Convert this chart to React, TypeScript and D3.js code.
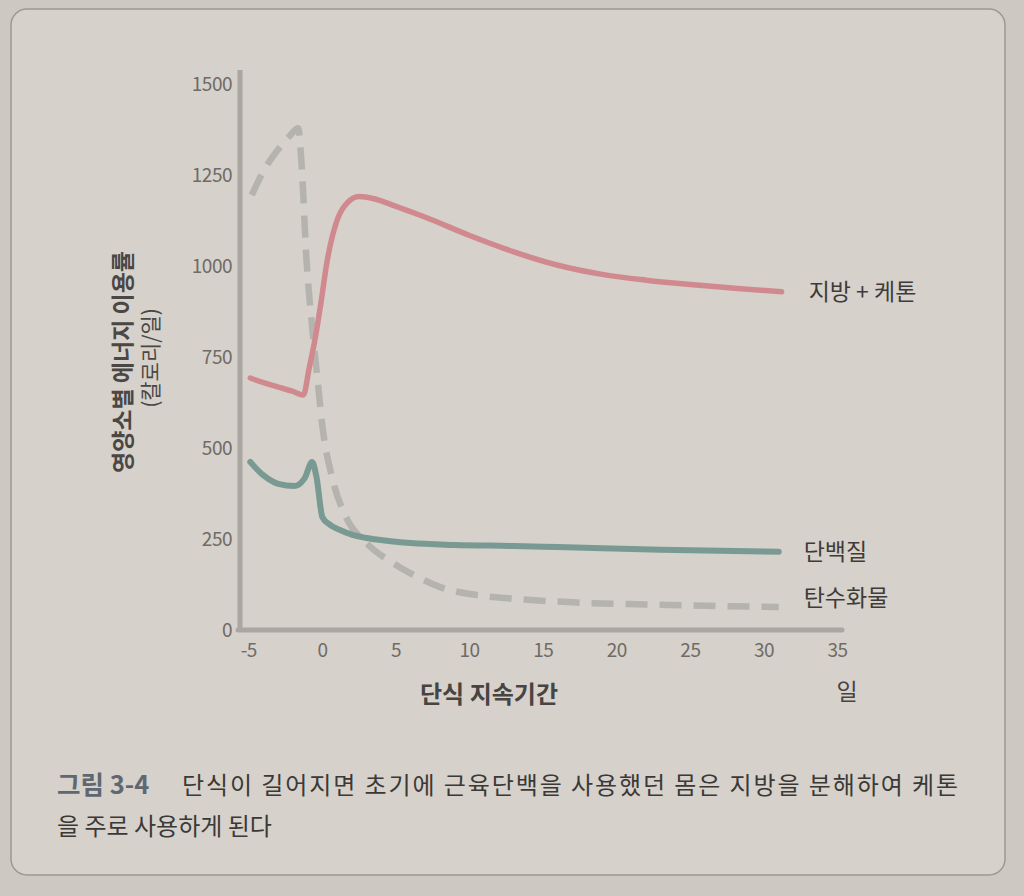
import * as d3 from "d3";
import React from "react";

// days of fasting vs. kcal/day by nutrient source
const fatKetone: [number, number][] = [
  [-4.9, 693], [-4, 680], [-3, 668], [-2, 656], [-1.3, 646], [-0.9, 720],
  [-0.5, 800], [-0.1, 900], [0.3, 1010], [1, 1127], [1.7, 1175], [2.5, 1192],
  [3.5, 1186], [5, 1165], [7, 1135], [10, 1085], [13, 1040], [16, 1003],
  [19, 978], [22, 962], [25, 950], [28, 940], [31.2, 930],
];

const protein: [number, number][] = [
  [-4.9, 462], [-4, 425], [-3, 402], [-1.9, 396], [-1.2, 418], [-0.7, 462],
  [-0.4, 420], [0, 310], [0.5, 290], [1.2, 275], [2, 262], [3, 253],
  [4.5, 245], [6, 239], [9, 234], [13, 231], [16, 228], [19, 225],
  [23, 221], [27, 218], [31, 215],
];

const carbs: [number, number][] = [
  [-4.8, 1196], [-4, 1262], [-3, 1322], [-2.2, 1360], [-1.65, 1380],
  [-1.4, 1270], [-1.1, 1030], [-0.7, 833], [-0.35, 696], [0, 560],
  [0.7, 413], [1.6, 311], [3, 239], [4.8, 184], [6.5, 145], [8, 118],
  [10.5, 96], [13, 86], [17, 76], [22, 70], [27, 66], [31, 63],
];

const xTicks = [-5, 0, 5, 10, 15, 20, 25, 30, 35];
const yTicks = [0, 250, 500, 750, 1000, 1250, 1500];

const seriesLabels = ["지방 + 케톤", "단백질", "탄수화물"];

const W = 1024;
const H = 896;
const FONT = "'Noto Sans CJK KR', 'Noto Sans', sans-serif";

export default function App() {
  const x = d3.scaleLinear().domain([-5.6, 35.3]).range([240, 842]);
  const y = d3.scaleLinear().domain([0, 1540]).range([630, 70]);

  const line = d3
    .line<[number, number]>()
    .x((d) => x(d[0]))
    .y((d) => y(d[1]))
    .curve(d3.curveMonotoneX);

  const x0 = x.range()[0];
  const x1 = x.range()[1];
  const y0 = y.range()[0];
  const y1 = y.range()[1];

  const lastFat = fatKetone[fatKetone.length - 1];
  const lastProt = protein[protein.length - 1];
  const lastCarb = carbs[carbs.length - 1];

  return (
    <svg
      width={W}
      height={H}
      style={{ position: "absolute", left: 0, top: 0, background: "#cdc8c1" }}
      fontFamily={FONT}
    >
      {/* page */}
      <rect
        x={11}
        y={9}
        width={994}
        height={866}
        rx={16}
        fill="#d6d1ca"
        stroke="#9d9892"
        strokeWidth={1.5}
      />

      {/* axes */}
      <line x1={x0} x2={x0} y1={y1} y2={y0 + 2} stroke="#aaa6a1" strokeWidth={5} />
      <line x1={x0 - 2} x2={x1} y1={y0} y2={y0} stroke="#aaa6a1" strokeWidth={5} strokeLinecap="round" />

      {yTicks.map((t) => (
        <text
          key={t}
          x={232}
          y={y(t)}
          dy="0.35em"
          textAnchor="end"
          fontSize={19}
          fill="#6f6b67"
          letterSpacing={-0.5}
        >
          {t}
        </text>
      ))}
      {xTicks.map((t) => (
        <text
          key={t}
          x={x(t)}
          y={650}
          dy="0.35em"
          textAnchor="middle"
          fontSize={19}
          fill="#6f6b67"
          letterSpacing={-0.5}
        >
          {t}
        </text>
      ))}

      {/* series */}
      <path
        d={line(carbs) || ""}
        fill="none"
        stroke="#b4b3ad"
        strokeWidth={6.5}
        strokeDasharray="22 12"
      />
      <path
        d={line(fatKetone) || ""}
        fill="none"
        stroke="#d08a8f"
        strokeWidth={5.5}
        strokeLinecap="round"
        strokeLinejoin="round"
      />
      <path
        d={line(protein) || ""}
        fill="none"
        stroke="#789a92"
        strokeWidth={6}
        strokeLinecap="round"
        strokeLinejoin="round"
      />

      {/* series labels */}
      <text x={x(lastFat[0]) + 27} y={y(lastFat[1])} dy="0.35em" fontSize={23} fill="#3e3c3a">
        {seriesLabels[0]}
      </text>
      <text x={x(lastProt[0]) + 25} y={y(lastProt[1])} dy="0.35em" fontSize={23} fill="#3e3c3a">
        {seriesLabels[1]}
      </text>
      <text x={x(lastCarb[0]) + 25} y={y(lastCarb[1]) - 9} dy="0.35em" fontSize={23} fill="#3e3c3a">
        {seriesLabels[2]}
      </text>

      {/* axis titles */}
      <g transform="translate(123,362) rotate(-90)">
        <text textAnchor="middle" dy="0.35em" fontSize={23} fontWeight="bold" fill="#4a4745">
          영양소별 에너지 이용률
        </text>
      </g>
      <g transform="translate(151,358) rotate(-90)">
        <text textAnchor="middle" dy="0.35em" fontSize={21} fill="#4a4745">
          (칼로리/일)
        </text>
      </g>
      <text x={489} y={695} dy="0.35em" textAnchor="middle" fontSize={24} fontWeight="bold" fill="#474442">
        단식 지속기간
      </text>
      <text x={847} y={692} dy="0.35em" textAnchor="middle" fontSize={23} fill="#474442">
        일
      </text>

      {/* caption */}
      <text x={57} y={786} dy="0.35em" fontSize={24} fill="#3b3937">
        <tspan fill="#5f6872" fontWeight="bold" fontSize={25.5}>그림 3-4</tspan>
        <tspan x={182} textLength={776} lengthAdjust="spacing">
          단식이 길어지면 초기에 근육단백을 사용했던 몸은 지방을 분해하여 케톤
        </tspan>
      </text>
      <text x={57} y={827} dy="0.35em" fontSize={24} fill="#3b3937">
        을 주로 사용하게 된다
      </text>
    </svg>
  );
}
